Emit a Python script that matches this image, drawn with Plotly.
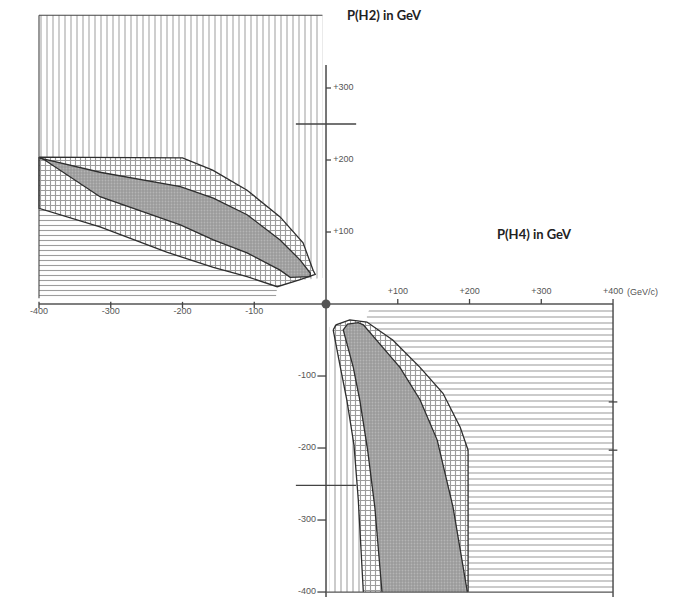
import plotly.graph_objects as go

# ---------------- data (GeV/c) ----------------
# Upper-left quadrant: cross-hatched zone boundaries
ul_xhatch_top_x = [-400, -200, -158, -110, -64, -32, -18]
ul_xhatch_top_y = [204, 203, 186, 158, 121, 85, 47]
ul_xhatch_tip_x = [-18, -15, -36, -60, -68]
ul_xhatch_tip_y = [47, 41, 34, 26, 24]
ul_xhatch_bot_x = [-68, -110, -157, -222, -315, -400]
ul_xhatch_bot_y = [24, 38, 51, 72, 107, 133]
# Upper-left stippled band
ul_band_top_x = [-400, -315, -203, -157, -110, -64, -36, -22]
ul_band_top_y = [203, 183, 163, 147, 124, 89, 61, 43]
ul_band_bot_x = [-22, -50, -64, -110, -157, -203, -315, -392]
ul_band_bot_y = [38, 37, 47, 71, 89, 110, 149, 200]
# Upper-left vertical / horizontal hatch region corners
ul_vert_x = [-400, -5, -5, -36, -60]
ul_vert_y = [401, 401, 36, 33, 26]
ul_horiz_x = [-400, -70]
ul_horiz_y = [8, 8]

# Lower-right quadrant: cross-hatched zone boundaries
lr_xhatch_top_x = [10, 14, 33, 57]
lr_xhatch_top_y = [-36, -29, -22, -25]
lr_xhatch_right_x = [57, 93, 131, 163, 187, 198, 198]
lr_xhatch_right_y = [-25, -50, -88, -124, -171, -203, -400]
lr_xhatch_left_x = [52, 45, 39, 29, 20, 10]
lr_xhatch_left_y = [-400, -272, -196, -133, -88, -36]
# Lower-right stippled band
lr_band_left_x = [78, 68, 58, 47, 38, 24]
lr_band_left_y = [-400, -282, -203, -133, -88, -36]
lr_band_top_x = [24, 30, 45, 52]
lr_band_top_y = [-36, -28, -26, -29]
lr_band_right_x = [52, 103, 131, 155, 177, 197]
lr_band_right_y = [-29, -88, -133, -189, -282, -400]
# Lower-right vertical / horizontal hatch region corners
lr_vert_x = [5, 5]
lr_vert_y = [-400, -32]
lr_horiz_x = [400, 61, 57]
lr_horiz_y = [-6, -6, -16]

# Axes, ticks, labels
x_ticks_neg = [-400, -300, -200, -100]
x_labels_neg = ["-400", "-300", "-200", "-100"]
x_ticks_pos = [100, 200, 300, 400]
x_labels_pos = ["+100", "+200", "+300", "+400"]
y_ticks_pos = [100, 200, 300]
y_labels_pos = ["+100", "+200", "+300"]
y_ticks_neg = [-100, -200, -300, -400]
y_labels_neg = ["-100", "-200", "-300", "-400"]
axis_x_extent = [-400, 400]
axis_y_extent = [332, -410]
marker_levels = [250, -252]
frame_top = 401
right_edge_marks = [-136, -203]

# ---------------- figure ----------------
HATCH = "#3c3c3c"
CROSS = "#3a3a3a"
EDGE = "#2e2e2e"
CLEAR = "rgba(0,0,0,0)"

fig = go.Figure()


def poly(xs, ys, pattern, name):
    fig.add_trace(go.Scatter(
        x=xs + [xs[0]], y=ys + [ys[0]], mode="lines", fill="toself",
        line=dict(width=0, color=CLEAR), fillcolor=CLEAR,
        fillpattern=pattern, hoverinfo="skip", showlegend=False, name=name))


def outline(xs, ys, width=1.3, color=EDGE):
    fig.add_trace(go.Scatter(x=xs, y=ys, mode="lines",
                             line=dict(color=color, width=width),
                             hoverinfo="skip", showlegend=False))


# --- upper-left quadrant ---
v_x = ul_vert_x + ul_xhatch_bot_x
v_y = ul_vert_y + ul_xhatch_bot_y
poly(v_x, v_y, dict(shape="|", size=6, solidity=0.17, fgcolor=HATCH, bgcolor=CLEAR), "ul_vert")

h_x = ul_horiz_x + ul_xhatch_tip_x[::-1] + ul_xhatch_top_x[::-1][1:]
h_y = ul_horiz_y + ul_xhatch_tip_y[::-1] + ul_xhatch_top_y[::-1][1:]
poly(h_x, h_y, dict(shape="-", size=5, solidity=0.22, fgcolor=HATCH, bgcolor=CLEAR), "ul_horiz")

c_x = ul_xhatch_top_x + ul_xhatch_tip_x[1:] + ul_xhatch_bot_x[1:]
c_y = ul_xhatch_top_y + ul_xhatch_tip_y[1:] + ul_xhatch_bot_y[1:]
poly(c_x, c_y, dict(shape="+", size=5, solidity=0.4, fgcolor=CROSS, bgcolor="white"), "ul_cross")

b_x = ul_band_top_x + ul_band_bot_x
b_y = ul_band_top_y + ul_band_bot_y
poly(b_x, b_y, dict(shape=".", size=3, solidity=0.3, fgcolor="#cfcfcf", bgcolor="#9a9a9a"), "ul_band")

outline(c_x + [c_x[0]], c_y + [c_y[0]])
outline(b_x + [b_x[0]], b_y + [b_y[0]])
# frame of the vertical-hatch region
outline([ul_vert_x[0], ul_vert_x[1]], [frame_top, frame_top], 1.1, "#444")
outline([ul_vert_x[0], ul_vert_x[0]], [ul_horiz_y[0], frame_top], 1.1, "#444")

# --- lower-right quadrant ---
v2_x = lr_vert_x + lr_xhatch_top_x[1:] + lr_xhatch_right_x[1:]
v2_y = lr_vert_y + lr_xhatch_top_y[1:] + lr_xhatch_right_y[1:]
poly(v2_x, v2_y, dict(shape="|", size=6, solidity=0.18, fgcolor=HATCH, bgcolor=CLEAR), "lr_vert")

h2_x = lr_horiz_x + lr_xhatch_top_x[::-1] + lr_xhatch_left_x[::-1][1:] + [axis_x_extent[1]]
h2_y = lr_horiz_y + lr_xhatch_top_y[::-1] + lr_xhatch_left_y[::-1][1:] + [lr_xhatch_left_y[0]]
poly(h2_x, h2_y, dict(shape="-", size=6, solidity=0.18, fgcolor=HATCH, bgcolor=CLEAR), "lr_horiz")

c2_x = lr_xhatch_top_x + lr_xhatch_right_x[1:] + lr_xhatch_left_x
c2_y = lr_xhatch_top_y + lr_xhatch_right_y[1:] + lr_xhatch_left_y
poly(c2_x, c2_y, dict(shape="+", size=5, solidity=0.4, fgcolor=CROSS, bgcolor="white"), "lr_cross")

b2_x = lr_band_left_x + lr_band_top_x[1:] + lr_band_right_x[1:]
b2_y = lr_band_left_y + lr_band_top_y[1:] + lr_band_right_y[1:]
poly(b2_x, b2_y, dict(shape=".", size=3, solidity=0.3, fgcolor="#cfcfcf", bgcolor="#9a9a9a"), "lr_band")

outline(lr_xhatch_top_x + lr_xhatch_right_x[1:], lr_xhatch_top_y + lr_xhatch_right_y[1:])
outline(lr_xhatch_left_x, lr_xhatch_left_y)
outline(b2_x, b2_y)

# --- axes ---
outline(axis_x_extent, [0, 0], 1.6, "#555")
outline([0, 0], axis_y_extent, 1.6, "#555")
outline([axis_x_extent[1], axis_x_extent[1]], [0, axis_y_extent[1]], 1.4, "#444")
outline([0, axis_x_extent[1]], [y_ticks_neg[-1], y_ticks_neg[-1]], 1.2, "#555")

tx, ty = [], []
for v in x_ticks_neg:
    tx += [v, v, None]; ty += [-6, 3, None]
for v in x_ticks_pos:
    tx += [v, v, None]; ty += [0, 7, None]
for v in y_ticks_pos:
    tx += [0, 7, None]; ty += [v, v, None]
for v in y_ticks_neg:
    tx += [-12, 0, None]; ty += [v, v, None]
for v in marker_levels:
    tx += [-42, 42, None]; ty += [v, v, None]
for v in right_edge_marks:
    tx += [axis_x_extent[1] - 6, axis_x_extent[1] + 6, None]; ty += [v, v, None]
outline(tx, ty, 1.3, "#444")

# origin dot
fig.add_trace(go.Scatter(x=[0], y=[0], mode="markers",
                         marker=dict(size=9, color="#555"),
                         hoverinfo="skip", showlegend=False))

TICKFONT = dict(family="Liberation Sans", size=9, color="#555")
fig.add_trace(go.Scatter(x=x_ticks_neg, y=[-11] * len(x_ticks_neg), mode="text",
                         text=x_labels_neg, textposition="middle center",
                         textfont=TICKFONT, hoverinfo="skip", showlegend=False))
fig.add_trace(go.Scatter(x=x_ticks_pos, y=[17] * len(x_ticks_pos), mode="text",
                         text=x_labels_pos, textposition="middle center",
                         textfont=TICKFONT, hoverinfo="skip", showlegend=False))
fig.add_trace(go.Scatter(x=[10] * len(y_ticks_pos), y=y_ticks_pos, mode="text",
                         text=y_labels_pos, textposition="middle right",
                         textfont=TICKFONT, hoverinfo="skip", showlegend=False))
fig.add_trace(go.Scatter(x=[-14] * len(y_ticks_neg), y=y_ticks_neg, mode="text",
                         text=y_labels_neg, textposition="middle left",
                         textfont=TICKFONT, hoverinfo="skip", showlegend=False))

fig.add_annotation(x=axis_x_extent[1], y=17, text="(GeV/c)", showarrow=False,
                   xanchor="left", xshift=12, font=TICKFONT)
fig.add_annotation(x=82, y=401, text="<b>P(H2) in GeV</b>", showarrow=False,
                   font=dict(family="Lato", size=13, color="#222"))
fig.add_annotation(x=291, y=97, text="<b>P(H4) in GeV</b>", showarrow=False,
                   font=dict(family="Lato", size=13, color="#222"))

# the page body has an 8px margin: size and ranges compensate for it
fig.update_layout(
    width=677, height=589, margin=dict(l=0, r=0, t=0, b=0),
    paper_bgcolor="white", plot_bgcolor="white", showlegend=False,
    xaxis=dict(range=[-443.2, 500.3], visible=False, fixedrange=True),
    yaxis=dict(range=[-406.9, 411.1], visible=False, fixedrange=True),
)

fig.write_html("out.html", config={"displayModeBar": False})
